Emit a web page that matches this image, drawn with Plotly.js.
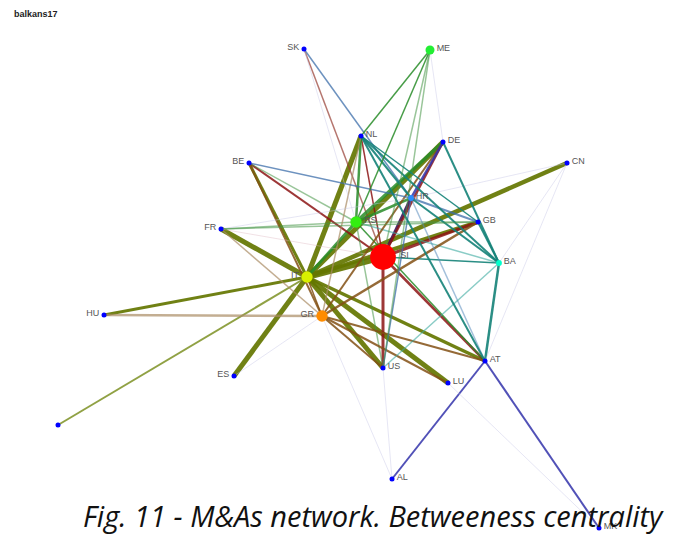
<!DOCTYPE html>
<html><head><meta charset="utf-8">
<script src="https://cdn.plot.ly/plotly-3.0.1.min.js"></script>
<style>html,body{margin:0;padding:0;background:#fff}#chart{width:678px;height:536px}</style>
</head><body><div id="chart"></div>
<script>
// ---- data ----
const nodeIds = ["SK","ME","NL","DE","CN","BE","HR","RS","FR","GB","SI","BA","IT","GR","HU","ES","US","LU","AT","AL","MK","X"];
const nodeX   = [304,430,361,443,567,249,411,356,221,478,383,499,307,322,104,234,383,448,485,392,599,58];
const nodeY   = [49,50,136,142,163,163,198,222,229,222,257,263,277,316,315,376,368,383,361,479,528,425];
const nodeBetweenness = [0,5,0,0,0,0,1,8,0,0,26,1,8,8,0,0,0,0,0,0,0,0];
const nodeLabelSide = ["L","R","R","R","R","L","R","R","L","R","R","R","L","L","L","L","R","R","R","R","R",""];

const edgeSource = ["IT","IT","IT","IT","IT","IT","IT","IT","IT","IT","IT","IT","IT","IT","IT",
  "SI","SI","SI","SI","SI","SI","SI","SI","SI",
  "RS","RS","RS","RS","RS","RS","RS","RS","RS",
  "GR","GR","GR","GR","GR","GR","GR","GR","GR","GR","GR",
  "HR","HR","HR","HR","HR","HR","HR","HR","HR","HR",
  "BA","BA","BA","BA","BA","BA",
  "AT","AT","AT","AT",
  "ME","ME","ME","ME","ME",
  "NL","US","LU","SK","FR","FR"];
const edgeTarget = ["CN","NL","DE","SI","GB","FR","BE","ES","HU","X","US","LU","AT","RS","GR",
  "GB","HR","DE","US","AT","BE","SK","BA","NL",
  "DE","NL","BE","FR","GB","BA","US","HR","AT",
  "DE","GB","US","LU","AT","NL","HU","FR","ES","BE","AL",
  "SK","BE","GB","US","AT","DE","NL","BA","CN","FR",
  "DE","NL","GB","US","AT","CN",
  "AL","MK","NL","CN",
  "RS","NL","US","SI","DE",
  "GB","AL","MK","RS","GB","SI"];
const edgeWeight = [4.5,5,5,6,4,5,3,5,3,2,5,5,3.5,3,1.5,
  3,3,2.5,3,2.5,2,1.5,1.5,1.5,
  3.5,2.5,1.5,1.5,1.5,1.5,1.5,2.5,1.5,
  2,2.5,2,2,2,1.5,2.5,1.5,1,2,1,
  1.5,1.5,2,1.5,1.5,2.5,2,2,1,1,
  2,2,2,1.5,2.5,1,
  2,2,2,1,
  1.5,1.5,1.5,1.5,1,
  1.5,1,1,1,1.5,1];
const edgeKind = ["olive","olive","olive","olive","olive","olive","olive","olive","olive","oliveLight","olive","olive","olive","green","brown",
  "red","navyRed","red","red","red","red","redLight","teal","red",
  "green","green","greenLight","greenLight","greenLight","tealLight","greenLight","green","green",
  "brown","brown","brown","brown","brown","tan","tan","tan","faint","brown","faint",
  "blue","blue","blue","blue","blueLight","navy","teal","teal","faint","faint",
  "teal","teal","teal","tealLight","teal","faint",
  "navy","navy","teal","faint",
  "green","green","greenLight","greenLight","faint",
  "teal","faint","faint","faint","greenLight","pinkFaint"];

// ---- styles ----
const kindColor = {
  olive:"rgba(100,118,0,0.92)", oliveLight:"rgba(125,145,35,0.85)",
  green:"rgba(40,140,40,0.85)", greenLight:"rgba(70,150,70,0.55)",
  red:"rgba(140,20,20,0.85)", redLight:"rgba(150,60,50,0.7)", navyRed:"rgba(60,20,90,0.9)",
  brown:"rgba(130,80,20,0.85)", tan:"rgba(170,140,100,0.7)",
  teal:"rgba(20,130,120,0.9)", tealLight:"rgba(60,170,160,0.6)",
  blue:"rgba(60,110,170,0.75)", blueLight:"rgba(90,140,190,0.55)", navy:"rgba(50,50,170,0.85)",
  faint:"rgba(200,200,230,0.45)", pinkFaint:"rgba(220,180,190,0.4)"
};
const nodeColorMap = {SI:"#ff0000",IT:"#d8f000",RS:"#33ee11",ME:"#22ee33",GR:"#ff8c00",BA:"#00ffcc",HR:"#2a8cff"};

const idx = {}; nodeIds.forEach((n,i)=>idx[n]=i);
const traces = [];
for (let i=0;i<edgeSource.length;i++){
  const a = idx[edgeSource[i]], b = idx[edgeTarget[i]];
  if (a===undefined || b===undefined) continue;
  traces.push({type:"scatter",mode:"lines",x:[nodeX[a],nodeX[b]],y:[nodeY[a],nodeY[b]],
    line:{color:kindColor[edgeKind[i]],width:edgeWeight[i]},hoverinfo:"skip",showlegend:false});
}
const sizes = nodeBetweenness.map(v=> v>0 ? 5+v*0.8 : 5);
const colors = nodeIds.map(n=>nodeColorMap[n]||"#0000ff");
traces.push({type:"scatter",mode:"markers",x:nodeX,y:nodeY,
  marker:{size:sizes,color:colors,opacity:1,line:{width:0}},hoverinfo:"skip",showlegend:false});
["L","R"].forEach(side=>{
  const xs=[],ys=[],ts=[],ss=[];
  nodeIds.forEach((n,i)=>{ if(nodeLabelSide[i]===side){xs.push(nodeX[i]);ys.push(nodeY[i]-1);ts.push(n);ss.push(Math.max(sizes[i],6));} });
  traces.push({type:"scatter",mode:"markers+text",x:xs,y:ys,text:ts,
    marker:{size:ss,color:"rgba(0,0,0,0)",opacity:1,line:{width:0,color:"rgba(0,0,0,0)"}},
    textposition: side==="L"?"middle left":"middle right",
    textfont:{family:"Liberation Sans, Arial, sans-serif",size:9,color:"#555"},
    hoverinfo:"skip",showlegend:false});
});

const layout = {
  width:678,height:536,margin:{l:0,r:0,t:0,b:0},
  paper_bgcolor:"#fff",plot_bgcolor:"#fff",
  xaxis:{range:[0,678],visible:false,fixedrange:true},
  yaxis:{range:[536,0],visible:false,fixedrange:true},
  annotations:[
    {text:"<b>balkans17</b>",xref:"paper",yref:"paper",x:12/678,y:1-14/536,xanchor:"left",yanchor:"middle",
     showarrow:false,font:{family:"Liberation Sans, Arial, sans-serif",size:9,color:"#222"}},
    {text:"<i>Fig. 11 - M&amp;As network. Betweeness centrality</i>",xref:"paper",yref:"paper",
     x:373/678,y:1-515/536,xanchor:"center",yanchor:"middle",showarrow:false,
     font:{family:"Open Sans, sans-serif",size:29,color:"#111"}}
  ]
};
Plotly.newPlot("chart",traces,layout,{staticPlot:true,displayModeBar:false});
</script></body></html>
